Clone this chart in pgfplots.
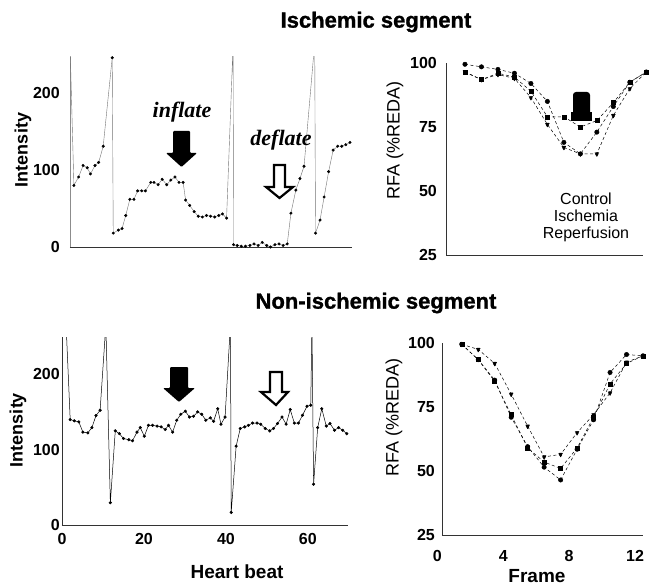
\documentclass[border=0pt]{standalone}
\usepackage{fontspec}
\setmainfont{Liberation Sans}
\newfontfamily\heavy{Liberation Sans}[BoldFeatures={FakeBold=1.2}]
\newfontfamily\scriptf{Liberation Serif}
\usepackage{pgfplots}
\pgfplotsset{compat=1.18}

\pgfplotsset{
  panel/.style={
    scale only axis, anchor=south west,
    axis x line=bottom, axis y line=left,
    axis line style={-, line width=0.7pt, black!80},
    major tick length=0pt,
    tick label style={font=\fontsize{16}{16}\selectfont\bfseries},
    /pgf/number format/assume math mode=true,
    yticklabel style={inner sep=0pt, anchor=east},
    xticklabel style={inner sep=0pt, anchor=north},
  },
  beat/.style={black!55, line width=0.4pt, mark=*, mark size=1.3pt,
    mark options={black, fill=black}},
  rfa/.style={black, line width=0.5pt, dash pattern=on 3pt off 2.5pt,
    mark options={solid, fill=black}},
}

\begin{document}
\begin{tikzpicture}
\useasboundingbox (0,0) rectangle (650pt,-588pt);

% ---------- top left: ischemic segment, intensity ----------
\begin{axis}[panel, at={(70pt,-247pt)}, width=282pt, height=190pt,
    xmin=1, xmax=69.8, ymin=0, ymax=247,
    xtick=\empty, ytick={0,100,200},
    y axis line style={black!45, line width=0.5pt},
    yticklabel style={xshift=-10pt}]
\addplot[beat] table {
1.0 265
1.95 80
3.1 91
4.2 106
5.2 103
6.0 95
7.1 106
8.0 110
9.1 131
11.3 246
11.55 18
12.8 22
13.7 24
14.6 41
15.6 62
16.6 62
17.5 73
18.5 73
19.4 73
20.7 84
21.5 84
22.5 81
23.5 88
24.6 81
25.6 87
26.6 91
27.6 84
28.6 84
29.2 61
30.2 54
31.3 46
32.3 40
33.3 39
34.3 41
35.3 40
36.3 39
37.3 41
38.2 43
39.2 37.5
40.8 265
40.9 3
41.8 2
42.8 1
43.8 1
44.9 2
45.9 4
46.9 2
47.9 6
49.0 2
49.9 0
51.0 3
52.0 4
53.0 2
54.0 4
54.9 44
56.1 74
57.1 89
58.1 105
60.7 265
60.9 18
62.0 35
63.0 65
64.1 98
65.2 126
66.3 131
67.3 131
68.3 133
69.3 136
};
\end{axis}

% ---------- bottom left: non-ischemic segment, intensity ----------
\begin{axis}[panel, at={(62pt,-525pt)}, width=286pt, height=188pt,
    xmin=0, xmax=69.8, ymin=0, ymax=249,
    xtick={0,20,40,60}, ytick={0,100,200},
    yticklabel style={xshift=-2pt}, xticklabel style={yshift=-8pt}]
\addplot[black, line width=0.5pt, mark=*, mark size=1.3pt] table {
1.0 265
2.0 139.6
3.0 138
4.1 136.6
5.1 123
6.3 122
7.3 129
8.3 145
9.3 152
10.7 265
11.8 29.5
13.0 124.7
14.0 121
15.0 114.5
16.3 113
17.2 111.5
18.3 123
19.1 129
20.1 117.6
21.1 132
22.1 132
23.2 131
24.2 130
25.2 126.4
26.0 132
27.0 123
28.0 138.8
29.0 146.7
30.1 150.7
31.1 143
32.1 144
33.1 149.8
34.1 146.7
35.1 138.8
36.2 141.9
37.0 137.4
38.0 154
38.8 133.5
39.8 143
41.1 265
41.3 16.7
42.5 104.4
43.5 127.8
44.6 130
45.5 132
46.5 135
47.6 135
48.5 133.5
49.6 127.8
50.7 124.7
51.6 127.8
52.6 134.4
53.7 143
54.7 133.5
55.7 152.9
56.7 135
57.7 135
58.7 145.4
59.8 157.3
60.7 158.6
61.0 265
61.4 54
62.4 129
63.4 154
64.5 131
65.4 134.4
66.5 125.5
67.5 129
68.5 125.5
69.5 121
};
\end{axis}

% ---------- top right: ischemic segment, RFA ----------
\begin{axis}[panel, at={(446pt,-255pt)}, width=197pt, height=192pt,
    xmin=-0.15, xmax=11.8, ymin=25, ymax=100, clip=false,
    xtick=\empty, ytick={25,50,75,100},
    yticklabel style={xshift=-9pt}]
% Control
\addplot[rfa, mark=*, mark size=2.2pt] table {
1 99.5
2 98.5
3 97.5
4 96
5 92
6 85
7 69
8 64.5
9 73
10 83
11 92.5
12 96.5
};
% Ischemia
\addplot[rfa, mark=square*, mark size=2pt] table {
1 96.5
2 93.5
3 96
4 94.5
5 89
6 79
7 79
8 75
9 77.5
10 84.5
11 92.5
12 96.5
};
% Reperfusion
\addplot[rfa, mark=triangle*, mark size=2.6pt, mark options={rotate=180}] table {
1 96.5
2 93.5
3 95.5
4 94
5 86.5
6 76
7 67
8 64.5
9 64.5
10 79.5
11 90
12 96.5
};
\end{axis}

% ---------- bottom right: non-ischemic segment, RFA ----------
\begin{axis}[panel, at={(442pt,-535pt)}, width=201pt, height=192pt,
    xmin=-0.2, xmax=12, ymin=25, ymax=100, clip=false,
    xtick={0,4,8,12}, ytick={25,50,75,100},
    yticklabel style={xshift=-7pt}, xticklabel style={xshift=-8pt, yshift=-15pt}]
% Control
\addplot[rfa, mark=*, mark size=2.2pt] table {
1 99.5
2 93.5
3 85.5
4 71
5 59.5
6 51.5
7 46.5
8 58.5
9 70
10 88.5
11 95.5
12 95
};
% Ischemia
\addplot[rfa, mark=square*, mark size=2pt] table {
1 99.5
2 93.5
3 85
4 72
5 59
6 53.5
7 51
8 59
9 71
10 84
11 92
12 95
};
% Reperfusion
\addplot[rfa, mark=triangle*, mark size=2.6pt, mark options={rotate=180}] table {
1 99.5
2 97.5
3 92
4 80
5 67.5
6 55.5
7 56.5
8 65
9 72
10 80.5
11 92.5
12 95
};
\end{axis}

% ---------- texts and arrows (picture coordinates, y downwards) ----------
\begin{scope}[x=1pt, y=-1pt]
\node[font=\fontsize{22}{22}\selectfont\heavy\bfseries] at (376,22) {Ischemic segment};
\node[font=\fontsize{22}{22}\selectfont\heavy\bfseries] at (376,303) {Non-ischemic segment};

\node[font=\fontsize{18}{18}\selectfont\bfseries, rotate=90] at (23,150) {Intensity};
\node[font=\fontsize{18}{18}\selectfont\bfseries, rotate=90] at (18,430) {Intensity};
\node[font=\fontsize{18}{18}\selectfont, rotate=90] at (395,140) {RFA (\%REDA)};
\node[font=\fontsize{18}{18}\selectfont, rotate=90] at (394,417) {RFA (\%REDA)};
\node[font=\fontsize{19}{19}\selectfont\bfseries] at (237,572) {Heart beat};
\node[font=\fontsize{19}{19}\selectfont\bfseries] at (537,576) {Frame};

\node[font=\fontsize{16}{17}\selectfont, align=center] at (586,217)
  {Control\\Ischemia\\Reperfusion};

\node[font=\fontsize{22}{22}\selectfont\scriptf\bfseries\itshape] at (182,112) {inflate};
\node[font=\fontsize{22}{22}\selectfont\scriptf\bfseries\itshape] at (281,140) {deflate};

% filled arrows (inflate)
\fill[black, rounded corners=1pt] (173,131) -- (190,131) -- (190,153) -- (197,153)
  -- (181.5,167) -- (166,153) -- (173,153) -- cycle;
\fill[black, rounded corners=1pt] (170,367) -- (188,367) -- (188,388) -- (195,388)
  -- (179,402) -- (163,388) -- (170,388) -- cycle;
% open arrows (deflate)
\draw[black, fill=white, line width=2.2pt, line join=miter] (274,165) -- (285,165) -- (285,187)
  -- (293,187) -- (279.5,198) -- (266,187) -- (274,187) -- cycle;
\draw[black, fill=white, line width=2.2pt, line join=miter] (270,372) -- (282,372) -- (282,392)
  -- (288,392) -- (276,405) -- (261,392) -- (270,392) -- cycle;
% inflation marker in the RFA panel
\fill[black, rounded corners=3pt] (573,121) rectangle (590,92);
\fill[black] (571,112) rectangle (592,121);
\end{scope}
\end{tikzpicture}
\end{document}
